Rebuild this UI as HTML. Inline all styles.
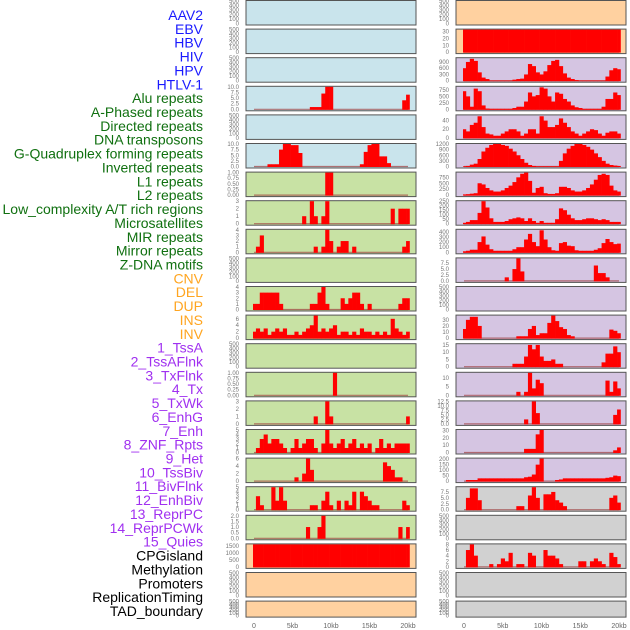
<!DOCTYPE html>
<html><head><meta charset="utf-8">
<style>
body{margin:0;background:#fff;}
svg{display:block;font-family:"Liberation Sans",sans-serif;}
</style></head>
<body>
<svg id="chart" width="630" height="630" viewBox="0 0 630 630" xmlns="http://www.w3.org/2000/svg">
<g id="labels"></g>
<g id="panels"></g>
<g id="xaxes"></g>
</svg>
<script>
const trackLabels = ["AAV2","EBV","HBV","HIV","HPV","HTLV-1","Alu repeats","A-Phased repeats","Directed repeats","DNA transposons","G-Quadruplex forming repeats","Inverted repeats","L1 repeats","L2 repeats","Low_complexity A/T rich regions","Microsatellites","MIR repeats","Mirror repeats","Z-DNA motifs","CNV","DEL","DUP","INS","INV","1_TssA","2_TssAFlnk","3_TxFlnk","4_Tx","5_TxWk","6_EnhG","7_Enh","8_ZNF_Rpts","9_Het","10_TssBiv","11_BivFlnk","12_EnhBiv","13_ReprPC","14_ReprPCWk","15_Quies","CPGisland","Methylation","Promoters","ReplicationTiming","TAD_boundary"];
const labelGroups = ["virus","virus","virus","virus","virus","virus","repeat","repeat","repeat","repeat","repeat","repeat","repeat","repeat","repeat","repeat","repeat","repeat","repeat","sv","sv","sv","sv","sv","chrom","chrom","chrom","chrom","chrom","chrom","chrom","chrom","chrom","chrom","chrom","chrom","chrom","chrom","chrom","other","other","other","other","other"];
const xTickValues = [0,5000,10000,15000,20000];
const xTickLabels = ["0","5kb","10kb","15kb","20kb"];
const binSize = 500;
const emptyTicks = [0,100,200,300,400,500];

// Left column tracks (rows 0-21)
const valsL3 = {15:1,16:1,17:1,18:7,19:10,20:10,39:4,40:6.5};
const valsL5 = {4:1,5:1,6:1,7:7.5,8:10,9:10,10:9.5,11:9.5,12:6,28:1,29:6.5,30:9.5,31:10,32:10,33:4.5,34:4.5,35:1.5};
const valsL6 = {19:1,20:1};
const valsL7 = {13:1,15:3,16:1,18:1,19:3,36:2,38:2,39:2,40:2};
const valsL8 = {1:1,2:3,16:1,18:1,19:4,20:2,22:1,23:2,24:2,26:1,39:1,40:2};
const valsL10 = [1,1,3,3,3,3,3,1,0,0,0,0,0,0,0,1,1,3,4,1,0,0,0,2,1,2,3,3,1,0,1,0,0,0,0,0,0,0,1,2,2];
const valsL11 = [2,3,2,3,1,2,3,2,3,1,1,2,1,2,3,4,7,2,3,2,3,4,1,2,2,1,2,1,3,2,2,1,2,1,2,1,6,3,2,1,2];
const valsL13 = {21:1};
const valsL14 = {16:1,19:3,20:1,40:1};
const valsL15 = [0,1,3,4,2,3,3,2,1,0,1,3,1,2,3,3,1,0,2,5,2,1,2,3,1,2,3,1,2,1,2,0,1,3,1,2,1,2,2,2,2];
const valsL16 = {11:1,13:2,14:6,15:3,34:5,35:4,36:3,37:1,38:1};
const valsL17 = {1:3,2:1,5:5,6:2,7:5,8:2,15:1,16:1,18:2,19:4,20:1,22:2,24:2,25:1,26:4,28:4,29:3,30:2,31:1,32:1,39:2,40:1};
const valsL18 = {14:1,17:1,18:2,38:1,40:1};
const valsL19 = [1600,1600,1600,1600,1600,1600,1600,1600,1600,1600,1600,1600,1600,1600,1600,1600,1600,1600,1600,1600,1600,1600,1600,1600,1600,1600,1600,1600,1600,1600,1600,1600,1600,1600,1600,1600,1600,1600,1600,1600,1600];
// Right column tracks
const valsR1 = [33,33,33,33,33,33,33,33,33,33,33,33,33,33,33,33,33,33,33,33,33,33,33,33,33,33,33,33,33,33,33,33,33,33,33,33,33,33,33,33,33];
const valsR2 = [600,900,1050,950,400,150,80,10,10,10,10,10,10,50,80,100,300,800,700,400,300,450,750,950,1000,700,350,150,80,30,10,10,10,10,10,10,10,200,500,600,550];
const valsR3 = [700,500,100,800,700,150,30,20,20,20,20,20,20,50,100,100,300,650,500,550,850,800,500,300,650,600,400,300,150,80,50,20,20,20,20,20,100,400,400,650,550];
const valsR4 = [20,15,30,35,50,25,10,8,5,5,10,15,20,20,15,5,10,20,20,10,50,40,25,25,30,45,35,25,15,10,5,10,15,20,18,10,5,12,15,15,10];
const valsR5 = [10,30,100,150,400,800,1000,1150,1200,1200,1150,1100,950,800,600,400,200,80,30,10,10,10,10,10,10,300,700,950,1100,1200,1200,1150,1050,900,700,500,300,150,80,50,30];
const valsR6 = [30,40,60,80,500,450,300,200,150,150,200,300,400,550,750,900,950,600,100,300,350,80,50,50,80,350,350,300,200,150,150,200,300,450,650,850,900,850,400,200,150];
const valsR7 = [10,20,40,40,120,250,180,60,20,20,20,30,50,60,70,60,30,60,30,10,30,10,10,10,50,170,150,100,60,40,40,50,60,60,50,40,50,40,20,20,20];
const valsR8 = [20,30,50,50,200,310,150,60,30,30,30,30,30,60,100,100,250,360,200,120,430,250,100,40,30,180,200,130,120,40,30,30,30,30,50,80,180,260,200,160,170];
const valsR9 = {11:1.5,13:5,14:9.5,15:4,34:6.5,35:3.3,36:3.3,37:1.5};
const valsR11 = [15,30,35,35,20,0,0,0,0,0,0,0,0,0,3,3,3,15,20,5,8,8,25,37,28,18,15,5,3,0,0,0,0,0,0,0,0,0,14,12,8];
const valsR12 = {13:2,14:2,15:2,16:7,17:15,18:12,19:15,20:7,21:4,22:4,23:5,24:2,25:2,36:3,37:9,38:9,39:14,40:10};
const valsR13 = {14:2,16:2,17:13,18:4,19:9,20:7,37:8.5,38:2,39:8,40:4};
const valsR14 = {16:2.5,18:12.5,19:6,39:5,40:8};
const valsR15 = {16:5,17:5,18:5,19:25,20:31,39:3,40:7};
const valsR16 = [0,10,10,10,25,25,25,25,25,25,25,25,25,25,25,25,35,40,60,150,205,0,0,0,10,15,25,25,25,25,25,25,25,25,25,25,25,30,35,50,45];
const valsR17 = {1:5,2:9,3:9,4:4,14:1.5,15:1.5,17:6,18:9.5,19:5,21:6.5,22:6.5,23:7.5,24:4,25:3,26:1.5,38:5,39:6,40:3};
const valsR19 = [0,6,8,4,0,0,0,1,0,1,3,2,5,0,1,1,0,5,4,0,0,6,4,4,3,1,0,0,0,0,2,2,0,2,3,2,1,0,5,3.5,1];

const leftTracks = [
 {bg:"blue"},{bg:"blue"},{bg:"blue"},
 {bg:"blue",vals:valsL3,ticks:[0,2.5,5,7.5,10],tl:["0.0","2.5","5.0","7.5","10.0"],max:10},
 {bg:"blue"},
 {bg:"blue",vals:valsL5,ticks:[0,2.5,5,7.5,10],tl:["0.0","2.5","5.0","7.5","10.0"],max:10},
 {bg:"green",vals:valsL6,ticks:[0,0.25,0.5,0.75,1],tl:["0.00","0.25","0.50","0.75","1.00"],max:1},
 {bg:"green",vals:valsL7,ticks:[0,1,2,3],max:3},
 {bg:"green",vals:valsL8,ticks:[0,1,2,3,4],max:4},
 {bg:"green"},
 {bg:"green",vals:valsL10,ticks:[0,1,2,3,4],max:4},
 {bg:"green",vals:valsL11,ticks:[0,2,4,6],max:7},
 {bg:"green"},
 {bg:"green",vals:valsL13,ticks:[0,0.25,0.5,0.75,1],tl:["0.00","0.25","0.50","0.75","1.00"],max:1},
 {bg:"green",vals:valsL14,ticks:[0,1,2,3],max:3},
 {bg:"green",vals:valsL15,ticks:[0,1,2,3,4,5],max:5},
 {bg:"green",vals:valsL16,ticks:[0,2,4,6],max:6},
 {bg:"green",vals:valsL17,ticks:[0,1,2,3,4,5],max:5},
 {bg:"green",vals:valsL18,ticks:[0,0.5,1,1.5,2],tl:["0.0","0.5","1.0","1.5","2.0"],max:2},
 {bg:"orange",vals:valsL19,ticks:[0,500,1000,1500],max:1600},
 {bg:"orange"},{bg:"orange"}
];
const rightTracks = [
 {bg:"orange"},
 {bg:"orange",vals:valsR1,ticks:[0,10,20,30],max:33},
 {bg:"purple",vals:valsR2,ticks:[0,300,600,900],max:1080},
 {bg:"purple",vals:valsR3,ticks:[0,250,500,750],max:870},
 {bg:"purple",vals:valsR4,ticks:[0,20,40],max:52},
 {bg:"purple",vals:valsR5,ticks:[0,300,600,900,1200],max:1200},
 {bg:"purple",vals:valsR6,ticks:[0,250,500,750],max:950},
 {bg:"purple",vals:valsR7,ticks:[0,50,100,150,200,250],max:250},
 {bg:"purple",vals:valsR8,ticks:[0,100,200,300,400],max:440},
 {bg:"purple",vals:valsR9,ticks:[0,2.5,5,7.5],tl:["0.0","2.5","5.0","7.5"],max:9.5},
 {bg:"purple"},
 {bg:"purple",vals:valsR11,ticks:[0,10,20,30],max:37},
 {bg:"purple",vals:valsR12,ticks:[0,5,10,15],max:15.5},
 {bg:"purple",vals:valsR13,ticks:[0,5,10],max:13},
 {bg:"purple",vals:valsR14,ticks:[0,2.5,5,7.5,10,12.5],tl:["0.0","2.5","5.0","7.5","10.0","12.5"],max:12.5},
 {bg:"purple",vals:valsR15,ticks:[0,10,20,30],max:31},
 {bg:"purple",vals:valsR16,ticks:[0,50,100,150,200],max:205},
 {bg:"gray",vals:valsR17,ticks:[0,2.5,5,7.5],tl:["0.0","2.5","5.0","7.5"],max:9.5},
 {bg:"gray"},
 {bg:"gray",vals:valsR19,ticks:[0,2,4,6,8],max:8},
 {bg:"gray"},{bg:"gray"}
];

const NS="http://www.w3.org/2000/svg";
const bgColors={blue:"#c9e4ec",green:"#c8e2a4",orange:"#ffd1a0",purple:"#d5c5e2",gray:"#d1d1d1"};
const labelColors={virus:"#1a1aff",repeat:"#107010",sv:"#ffa520",chrom:"#a030f0",other:"#000000"};
function mk(tag,attrs,parent){const e=document.createElementNS(NS,tag);for(const k in attrs)e.setAttribute(k,attrs[k]);parent.appendChild(e);return e;}

const labG=document.getElementById("labels");
trackLabels.forEach((t,i)=>{
  const e=mk("text",{x:203,y:20+i*13.86,"text-anchor":"end","font-size":"14",fill:labelColors[labelGroups[i]]},labG);
  
  
  e.textContent=t;
});

const cols=[{x0:246,x1:416,d0:254,d20:408,tickX:239,tracks:leftTracks,name:"left"},
            {x0:456,x1:626,d0:464,d20:619,tickX:449,tracks:rightTracks,name:"right"}];
const panG=document.getElementById("panels");
const axG=document.getElementById("xaxes");
cols.forEach(c=>{
  const xs=v=>c.d0+(v/20000)*(c.d20-c.d0);
  c.tracks.forEach((tr,r)=>{
    const top=r*28.6+0.5, h=(r===21)?16:24.5, bot=top+h;
    const g=mk("g",{},panG);
    
    
    mk("rect",{x:c.x0,y:top,width:c.x1-c.x0,height:h,fill:bgColors[tr.bg],stroke:"#555",'stroke-width':1},g);
    const y0=bot-1.5, y1=top+0.5;
    const ticks=tr.ticks||emptyTicks, mx=tr.max||500;
    const ys=v=>y0-(v/mx)*(y0-y1);
    ticks.forEach((t,k)=>{
      const lab=tr.tl?tr.tl[k]:String(t);
      const te=mk("text",{x:c.tickX,y:ys(t)+2,"text-anchor":"end","font-size":"6",fill:"#777"},g);
      
      
      te.textContent=lab;
    });
    if(tr.vals){
      const arr=[];
      for(let i=0;i<=40;i++){arr.push(Array.isArray(tr.vals)?(tr.vals[i]||0):(tr.vals[i]||0));}
      const bl=mk("line",{x1:xs(0),x2:xs(20000),y1:y0,y2:y0,stroke:"#a04040",'stroke-width':1.2,opacity:0.7},g);
      
      
      arr.forEach((v,i)=>{
        if(v<=0)return;
        const xa=xs(i*binSize-binSize/2), xb=xs(i*binSize+binSize/2);
        const xl=Math.max(xa,xs(0)-1), xr=Math.min(xb,xs(20000)+1.5);
        const b=mk("rect",{x:xl,y:ys(v),width:xr-xl+0.3,height:y0-ys(v)+0.5,fill:"#ff0000"},g);
        
        
      });
    }
  });
  xTickValues.forEach((v,k)=>{
    const t=mk("text",{x:xs(v),y:628,"text-anchor":"middle","font-size":"7",fill:"#666"},axG);
    
    
    t.textContent=xTickLabels[k];
  });
});
</script>
</body></html>
